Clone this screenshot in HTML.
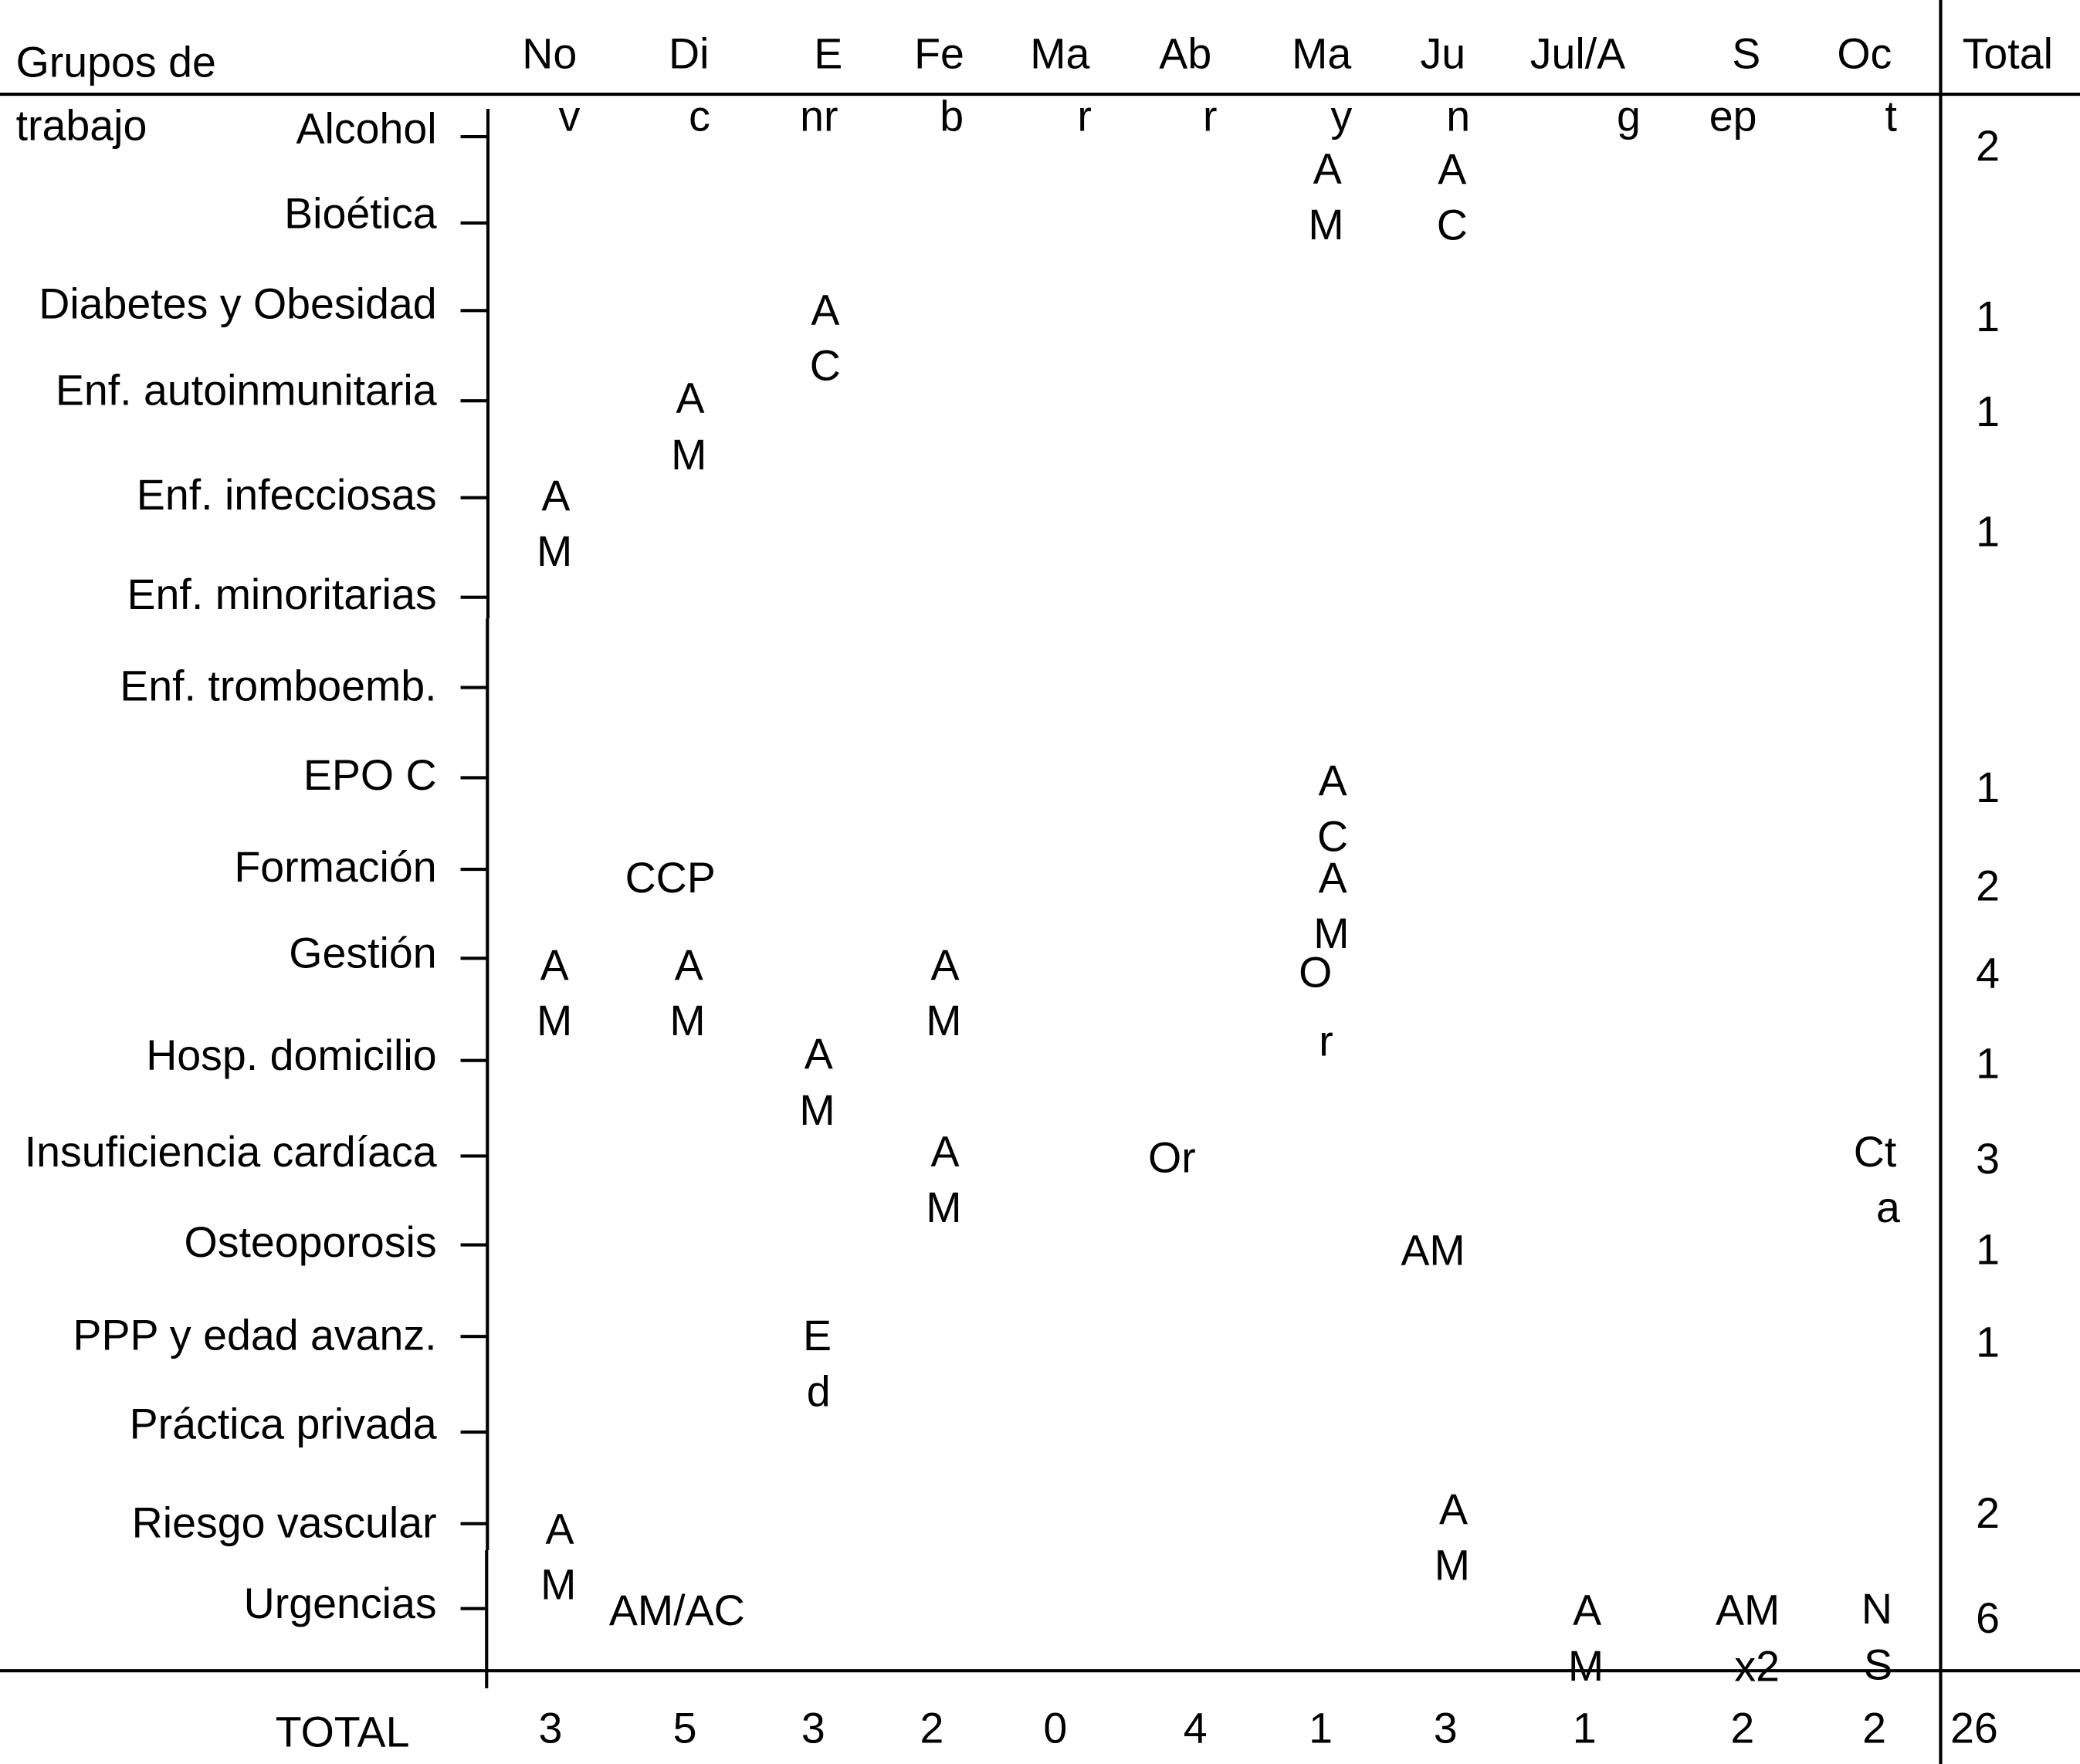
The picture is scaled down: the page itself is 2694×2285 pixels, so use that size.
<!DOCTYPE html>
<html lang="es">
<head>
<meta charset="utf-8">
<title>Grupos de trabajo</title>
<style>
html,body{margin:0;padding:0;background:#fff;}
svg{display:block;}
text{font-family:"Liberation Sans",Arial,sans-serif;font-size:32.3px;fill:#000;}
</style>
</head>
<body>
<svg id="chart" xmlns="http://www.w3.org/2000/svg" width="2694" height="2285" viewBox="0 0 1567 1329.1">
  <rect x="0" y="0" width="1567" height="1330" fill="#fff"/>
  <line x1="0" y1="71" x2="1567" y2="71" stroke="#000" stroke-width="2.4"/>
  <line x1="0" y1="1258.8" x2="1567" y2="1258.8" stroke="#000" stroke-width="2.4"/>
  <line x1="1462" y1="0" x2="1462" y2="1330" stroke="#000" stroke-width="2.4"/>
  <line x1="367.6" y1="82" x2="367.6" y2="466" stroke="#000" stroke-width="2.4"/>
  <line x1="367.2" y1="466" x2="367.2" y2="1168" stroke="#000" stroke-width="2.4"/>
  <line x1="366.6" y1="1168" x2="366.6" y2="1272" stroke="#000" stroke-width="2.4"/>
  <text x="12" y="58">Grupos de</text>
  <text x="12" y="105.6">trabajo</text>
  <text x="1512.5" y="51.5" text-anchor="middle">Total</text>
  <text x="258" y="1316" text-anchor="middle">TOTAL</text>
  <text id="grand-total" x="1469.3" y="1313">26</text>
  <g id="marks"></g>
</svg>
<script>
const categories = ["Alcohol","Bioética","Diabetes y Obesidad","Enf. autoinmunitaria","Enf. infecciosas","Enf. minoritarias","Enf. tromboemb.","EPO C","Formación","Gestión","Hosp. domicilio","Insuficiencia cardíaca","Osteoporosis","PPP y edad avanz.","Práctica privada","Riesgo vascular","Urgencias"];
const monthLabels = ["No|v","Di|c","E|nr","Fe|b","Ma|r","Ab|r","Ma|y","Ju|n","Jul/A|g","S|ep","Oc|t"];
const rowTotals = [2,null,1,1,1,null,null,1,2,4,1,3,1,1,null,2,6];
const columnTotals = [3,5,3,2,0,4,1,3,1,2,2];
const entryRows = [4,9,15,3,8,9,16,2,10,13,9,11,11,0,7,8,9,0,12,15,16,16,11,16];
const entryColumns = [0,0,0,1,1,1,1,2,2,2,3,3,5,6,6,6,6,7,7,7,8,9,10,10];
const entryTexts = ["A|M","A|M","A|M","A|M","CCP","A|M","AM/AC","A|C","A|M","E|d","A|M","A|M","Or","A|M","A|C","A|M","O|r","A|C","AM","A|M","A|M","AM|x2","Ct|a","N|S"];

function yOf(row) {
  return [103,168,234,302,375,450,518,586,655,722,799,871,938,1007,1079,1148,1212][row];
}
function xOf(column) {
  return [414.7,516,612.7,702,795,900.5,995,1089,1193.7,1312.7,1412][column];
}
function labelY(row) {
  return yOf(row) + [5,4,6,3.2,9,9,10,9,9.2,7.2,7.2,8,9,10,5,10.4,7.2][row];
}
function totalY(row) {
  return yOf(row) + [18,0,15.6,19.2,36.4,0,0,18.4,23.6,22.2,13.2,13.2,14.6,15.4,0,3.2,18.2][row];
}
function entryOffset(i) {
  return [[4,9.4,3,51.4],[3,16,3,58],[7,15,6,57],[4,9,3,51.6],[-11,17.4],[3,16,2,58],[-6,12.4],[9,10.6,9,52.6],[4,6,3,48.4],[3,10.4,4,52.4],[10,16,9,58],[10,7.6,9,49.8],[-17.6,12.2],[5,35.2,4,77.4],[9,13,9,55.2],[9,17.4,8,59.4],[-4,21.6,4,73.5],[5,35.4,5,77.6],[-9.4,15],[6,0.2,5,42.4],[2,12,1,54.4],[4,12.2,11,54.6],[0.6,8,10.4,49.8],[2,11.2,3,53.4]][i];
}

const marks = document.getElementById("marks");
const NS = "http://www.w3.org/2000/svg";
function addText(x, y, content, anchor) {
  const el = document.createElementNS(NS, "text");
  el.setAttribute("x", x);
  el.setAttribute("y", y);
  el.setAttribute("text-anchor", anchor);
  el.textContent = content;
  marks.appendChild(el);
  return el;
}

categories.forEach(function (name, row) {
  const label = addText(329, labelY(row), name, "end");
  
  
  const tick = document.createElementNS(NS, "line");
  tick.setAttribute("x1", 347);
  tick.setAttribute("x2", 367);
  tick.setAttribute("y1", yOf(row));
  tick.setAttribute("y2", yOf(row));
  tick.setAttribute("stroke", "#000");
  tick.setAttribute("stroke-width", 2.4);
  
  
  marks.appendChild(tick);
  if (rowTotals[row] !== null) {
    const total = addText(1497.5, totalY(row), String(rowTotals[row]), "middle");
    
    
  }
});

function headerX(column, line) {
  return (line === 0
    ? [414,519,624,707.6,798.5,893,995.6,1087,1188.6,1315.6,1404.6]
    : [429,527,617,717,817,911.6,1010.6,1098.6,1227,1305.6,1424.6])[column];
}
monthLabels.forEach(function (label, column) {
  label.split("|").forEach(function (part, line) {
    const head = addText(headerX(column, line), line === 0 ? 51.5 : 98.6, part, "middle");
    
    
  });
});

columnTotals.forEach(function (value, column) {
  const total = addText(xOf(column), 1313, String(value), "middle");
  
  
});

entryTexts.forEach(function (content, i) {
  const offset = entryOffset(i);
  const parts = content.split("|");
  const x = xOf(entryColumns[i]);
  const y = yOf(entryRows[i]);
  parts.forEach(function (part, line) {
    const mark = addText(x + offset[line * 2], y + offset[line * 2 + 1], part, "middle");
    
    
  });
});
</script>
</body>
</html>
